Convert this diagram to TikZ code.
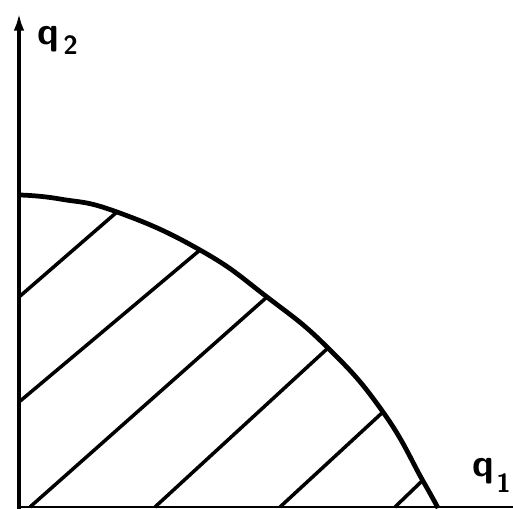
\documentclass[tikz,border=0pt]{standalone}
\usetikzlibrary{arrows.meta}
\begin{document}
\begin{tikzpicture}[x=0.02cm,y=-0.02cm,
  axis/.style={line width=2.7pt},
  hatch/.style={line width=2pt},
  lbl/.style={inner sep=0pt,anchor=base west,font=\sffamily\bfseries\fontsize{22}{22}\selectfont},
  sub/.style={inner sep=0pt,anchor=base west,font=\sffamily\bfseries\fontsize{15}{15}\selectfont}]
\path[use as bounding box] (0,0) rectangle (513,509);
\draw[axis,-{Latex[length=10pt,width=6pt]}] (19,509) -- (19,13);
\draw[line width=1.4pt] (19,507) -- (513,507);
\draw[line width=2.7pt] plot[smooth,tension=0.8] coordinates {(19,195) (60,199) (117,212) (200,250) (267,297) (328,348) (383,412) (423,481) (438,508)};
\draw[hatch] (19,297) -- (117,212);
\draw[hatch] (19,402) -- (200,250);
\draw[hatch] (30,507) -- (267,297);
\draw[hatch] (155,507) -- (328,348);
\draw[hatch] (280,507) -- (383,412);
\draw[hatch] (395,507) -- (422,481);
\node[lbl] (q2) at (37,45) {q};
\node[sub] (q2sub) at (63,55) {2};
\node[lbl] (q1) at (472,476) {q};
\node[sub] (q1sub) at (496,492) {1};
\end{tikzpicture}
\end{document}
